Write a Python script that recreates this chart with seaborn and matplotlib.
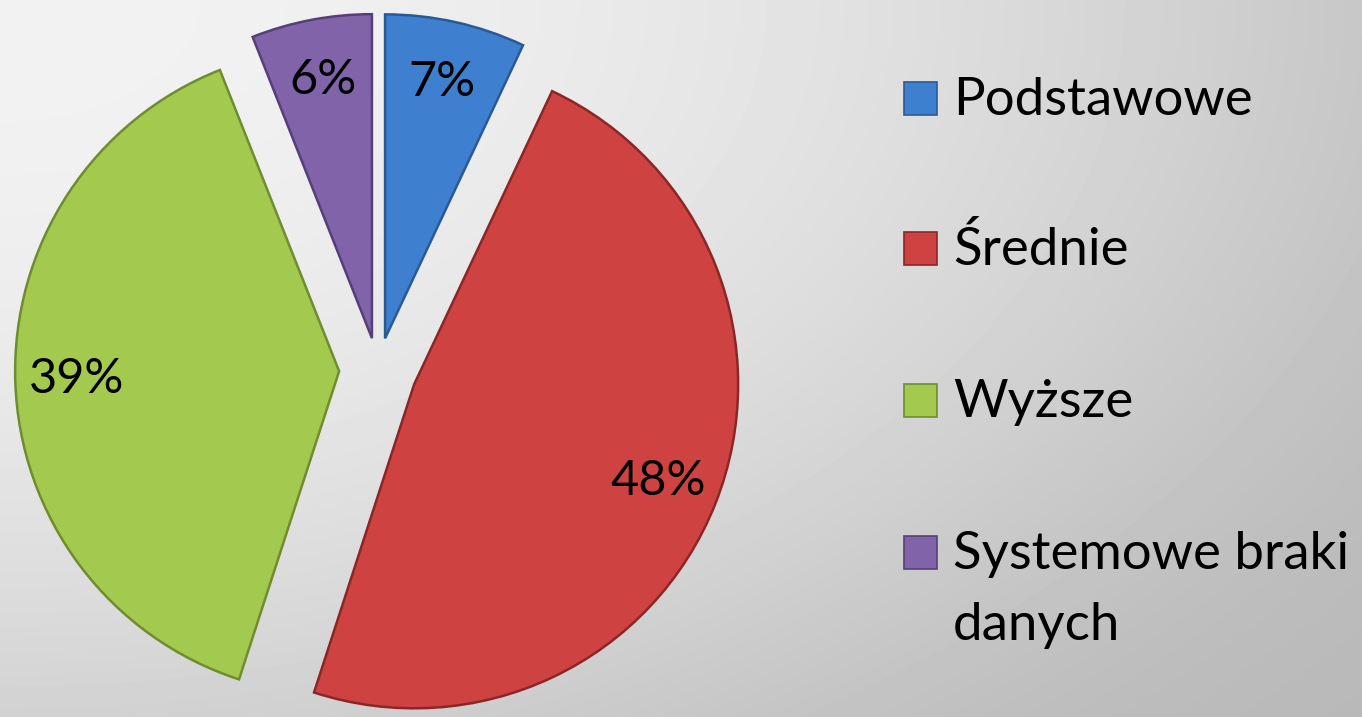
import numpy as np
import matplotlib.pyplot as plt
from matplotlib.patches import Rectangle
import seaborn as sns

# data
categories = ['Podstawowe', 'Średnie', 'Wyższe', 'Systemowe braki\ndanych']
shares = [7, 48, 39, 6]
colors = ['#3f7fcf', '#cf4242', '#a3c94f', '#8063a9']
edge_colors = ['#2a5a95', '#8c2626', '#6f8d30', '#563f78']
explode = [0.1, 0.12, 0.12, 0.1]

sns.set_style('white')
plt.rcParams['font.family'] = ['Lato', 'DejaVu Sans']

W, H = 1362, 717
fig = plt.figure(figsize=(W / 100, H / 100), dpi=100)

# gray gradient background (light top-left, darker bottom-right)
bg = fig.add_axes([0, 0, 1, 1])
yy, xx = np.mgrid[0:H, 0:W]
s = 0.82 * (xx / W) ** 2 + 0.61 * (yy / H) ** 2
s = s / (1 + (s / 1.1) ** 6) ** (1 / 6)
bg.imshow(0.949 - 0.21 * s, cmap='gray', vmin=0, vmax=1, aspect='auto')
bg.axis('off')

# pie, centre ~ (378, 370) px, radius ~324 px
R = 324
half = 1.3 * R
ax = fig.add_axes([(378 - half) / W, (H - 370 - half) / H, 2 * half / W, 2 * half / H])
wedges, texts, autotexts = ax.pie(
    shares, colors=colors, explode=explode, startangle=90, counterclock=False,
    autopct=lambda p: f'{p:.0f}%', pctdistance=0.81,
    textprops=dict(fontsize=35, color='black'),
    wedgeprops=dict(linewidth=1.8))
for w, ec in zip(wedges, edge_colors):
    w.set_edgecolor(ec)
ax.set_xlim(-1.3, 1.3)
ax.set_ylim(-1.3, 1.3)
ax.axis('off')

# legend
ys = [98, 248, 400, 552]
for lab, c, ec, y in zip(categories, colors, edge_colors, ys):
    fig.patches.append(Rectangle((904 / W, (H - y - 16.5) / H), 33 / W, 33 / H,
                                 facecolor=c, edgecolor=ec, lw=1.2,
                                 transform=fig.transFigure, figure=fig))
    for k, line in enumerate(lab.split('\n')):
        fig.text(953 / W, (H - y - 17 - 71 * k) / H, line, fontsize=38,
                 va='baseline', ha='left', color='black')

fig.savefig('out.png', dpi=100)
